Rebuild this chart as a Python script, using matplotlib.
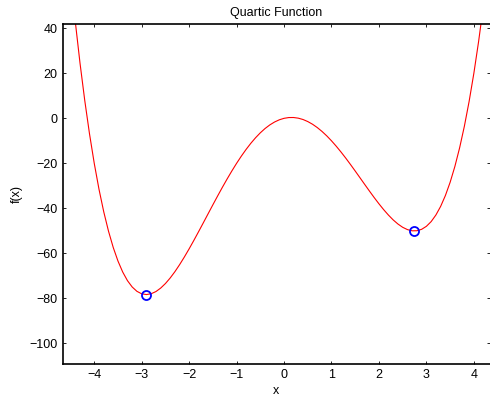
import matplotlib
matplotlib.use("Agg")
import matplotlib.pyplot as plt

plt.rcParams["font.family"] = ["Liberation Sans", "DejaVu Sans"]

# curve samples
x_vals = [-4.6, -4.5, -4.4, -4.3, -4.2, -4.1, -4.0, -3.9, -3.8, -3.7,
          -3.6, -3.5, -3.4, -3.3, -3.2, -3.1, -3.0, -2.9, -2.8, -2.7,
          -2.6, -2.5, -2.4, -2.3, -2.2, -2.1, -2.0, -1.9, -1.8, -1.7,
          -1.6, -1.5, -1.4, -1.3, -1.2, -1.1, -1.0, -0.9, -0.8, -0.7,
          -0.6, -0.5, -0.4, -0.3, -0.2, -0.1, 0.0, 0.1, 0.2, 0.3,
          0.4, 0.5, 0.6, 0.7, 0.8, 0.9, 1.0, 1.1, 1.2, 1.3,
          1.4, 1.5, 1.6, 1.7, 1.8, 1.9, 2.0, 2.1, 2.2, 2.3,
          2.4, 2.5, 2.6, 2.7, 2.8, 2.9, 3.0, 3.1, 3.2, 3.3,
          3.4, 3.5, 3.6, 3.7, 3.8, 3.9, 4.0, 4.1, 4.2, 4.3, 4.4]
f_vals = [86.19, 63.56, 43.05, 24.54, 7.93, -6.88, -20.0, -31.52, -41.53, -50.12,
          -57.40, -63.44, -68.33, -72.15, -74.98, -76.91, -78.0, -78.33, -77.97, -77.00,
          -75.46, -73.44, -70.98, -68.16, -65.01, -61.61, -58.0, -54.23, -50.34, -46.39,
          -42.41, -38.44, -34.52, -30.68, -26.97, -23.40, -20.0, -16.80, -13.83, -11.10,
          -8.63, -6.44, -4.53, -2.93, -1.64, -0.66, 0.0, 0.34, 0.36, 0.07,
          -0.53, -1.44, -2.63, -4.10, -5.83, -7.80, -10.0, -12.40, -14.97, -17.68,
          -20.52, -23.44, -26.41, -29.39, -32.34, -35.23, -38.0, -40.61, -43.01, -45.16,
          -46.98, -48.44, -49.46, -50.00, -49.97, -49.33, -48.0, -45.91, -42.98, -39.15,
          -34.33, -28.44, -21.40, -13.12, -3.53, 7.48, 20.0, 34.12, 49.93, 67.54, 87.05]

# local minima marked with circles
min_x = [-2.9035, 2.7468]
min_f = [-78.33, -50.06]

x_ticks = [-4, -3, -2, -1, 0, 1, 2, 3, 4]
y_ticks = [-100, -80, -60, -40, -20, 0, 20, 40]

fig = plt.figure(figsize=(4.9, 3.98), dpi=100)
ax = fig.add_axes([0.129, 0.086, 0.870, 0.853])

ax.plot(x_vals, f_vals, color="red", linewidth=0.8)
ax.plot(min_x, min_f, "o", markerfacecolor="none", markeredgecolor="blue",
        markersize=6.5, markeredgewidth=1.3)

ax.set_xlim(-4.654, 4.33)
ax.set_ylim(-109.1, 41.8)
ax.set_xticks(x_ticks)
ax.set_yticks(y_ticks)
ax.tick_params(direction="in", length=2.5, width=0.6, labelsize=9,
               top=True, right=True, pad=4)
for side in ax.spines.values():
    side.set_linewidth(1.2)
ax.spines["right"].set_visible(False)

ax.set_title("Quartic Function", fontsize=9, pad=6)
ax.set_xlabel("x", fontsize=9, labelpad=3)
ax.set_ylabel("f(x)", fontsize=9, labelpad=5)

fig.savefig("out.png", dpi=100)
